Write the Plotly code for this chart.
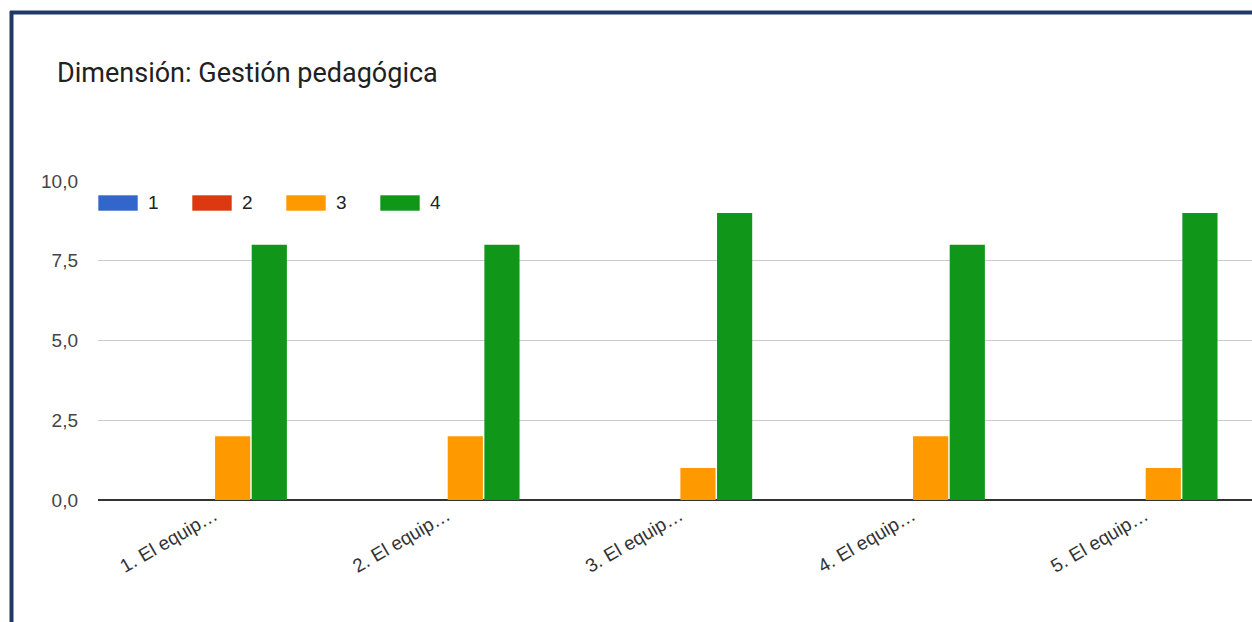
import plotly.graph_objects as go

categories = ["1. El equip…", "2. El equip…", "3. El equip…", "4. El equip…", "5. El equip…"]
series_names = ["1", "2", "3", "4"]
s1 = [0, 0, 0, 0, 0]
s2 = [0, 0, 0, 0, 0]
s3 = [2, 2, 1, 2, 1]
s4 = [8, 8, 9, 8, 9]
colors = ["#3366cc", "#dc3912", "#ff9900", "#109618"]
y_ticks = [0, 2.5, 5, 7.5, 10]

W, H = 1252, 622
PL, PR, PT, PB = 98, 1252, 181, 500  # plot area in pixels


def px(x):
    return x / W


def py(y):
    return 1 - y / H


fig = go.Figure()
for name, vals, col in zip(series_names, [s1, s2, s3, s4], colors):
    fig.add_trace(go.Bar(x=categories, y=vals, name=name, marker_color=col,
                         marker_line_width=0, showlegend=False))

shapes = []
annotations = []
# custom legend with wide swatches
leg_x = [98, 192, 286, 380]
for i, (name, col) in enumerate(zip(series_names, colors)):
    x0 = leg_x[i]
    shapes.append(dict(type="rect", xref="paper", yref="paper",
                       x0=px(x0), x1=px(x0 + 40), y0=py(211), y1=py(195),
                       fillcolor=col, line=dict(width=1, color="rgba(255,255,255,0.6)"), layer="above"))
    annotations.append(dict(xref="paper", yref="paper", x=px(x0 + 48), y=py(203),
                            text=name, showarrow=False, xanchor="left", yanchor="middle",
                            font=dict(family="Liberation Sans, Arial", size=19, color="#222222")))

# frame border
shapes.append(dict(type="line", xref="paper", yref="paper", x0=px(10), x1=px(1260),
                   y0=py(12.5), y1=py(12.5), line=dict(color="#1f3864", width=4), layer="above"))
shapes.append(dict(type="line", xref="paper", yref="paper", x0=px(11.5), x1=px(11.5),
                   y0=py(11), y1=py(640), line=dict(color="#1f3864", width=4), layer="above"))

# title
annotations.append(dict(xref="paper", yref="paper", x=px(55), y=py(73),
                        text="Dimensión: Gestión pedagógica", showarrow=False,
                        xanchor="left", yanchor="middle",
                        font=dict(family="Roboto, Arial", size=27, color="#212121")))

fig.update_layout(
    width=W, height=H,
    margin=dict(l=0, r=0, t=0, b=0),
    paper_bgcolor="white", plot_bgcolor="white",
    separators=",.",
    barmode="group", bargap=0.37, bargroupgap=0.04,
    shapes=shapes, annotations=annotations,
    showlegend=False,
    font=dict(family="Liberation Sans, Arial", size=19, color="#444444"),
)
fig.update_xaxes(domain=[px(PL), 1], range=[-0.5, 4.46],
                 tickangle=-30, showgrid=False, showline=False, ticks="",
                 tickfont=dict(family="Liberation Sans, Arial", size=19, color="#333333"),
                 automargin=False, zeroline=False)
fig.update_yaxes(domain=[py(PB), py(PT)], range=[0, 10], tickvals=y_ticks,
                 tickformat=".1f", showgrid=True, gridcolor="#cccccc", gridwidth=1,
                 zeroline=True, zerolinecolor="#333333", zerolinewidth=2,
                 ticks="", ticklabelstandoff=19,
                 tickfont=dict(family="Liberation Sans, Arial", size=19, color="#444444"),
                 automargin=False)

fig.write_html("out.html", config={"displayModeBar": False},
               post_script="document.body.style.margin='0';document.body.style.overflow='hidden';")
